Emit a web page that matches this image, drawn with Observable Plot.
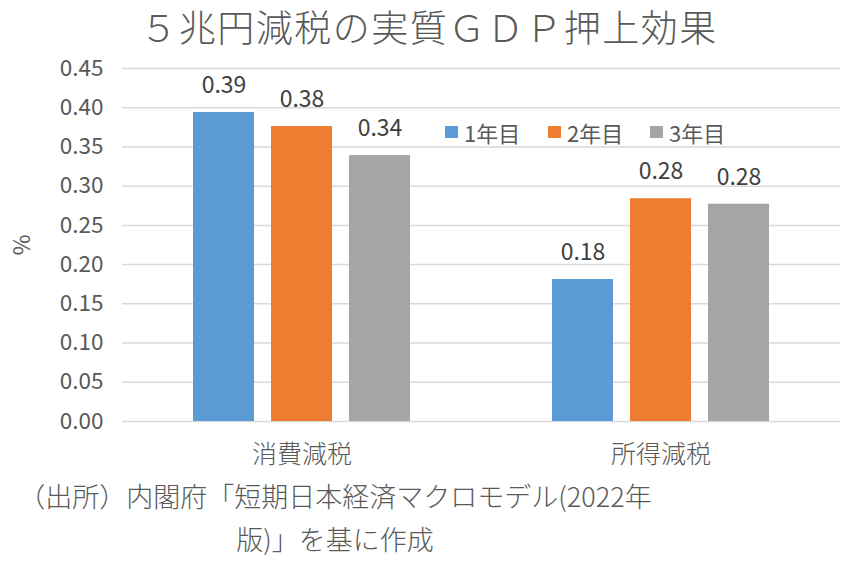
<!DOCTYPE html>
<html><head><meta charset="utf-8">
<script src="https://cdn.jsdelivr.net/npm/d3@7"></script>
<script src="https://cdn.jsdelivr.net/npm/@observablehq/plot@0.6"></script>
<style>
body{margin:0;background:#fff;font-family:"Noto Sans CJK JP","Noto Sans",sans-serif;color:#595959;}
#wrap{position:relative;width:858px;height:561px;overflow:hidden;}
#title{position:absolute;left:0;top:3px;width:858px;text-align:center;font-size:37px;font-weight:300;line-height:46px;color:#595959;letter-spacing:1.5px;}
#chart{position:absolute;left:0;top:50px;}
#legend{position:absolute;left:445px;top:117px;font-size:22px;line-height:30px;}
#legend span.item{position:absolute;top:0;display:flex;align-items:center;white-space:nowrap;}
#legend i{display:inline-block;width:13px;height:12px;margin-right:6px;}
#caption{position:absolute;left:2px;top:474px;width:666px;text-align:center;font-size:27px;line-height:43px;color:#595959;font-weight:300;white-space:nowrap;}
</style></head>
<body><div id="wrap">
<div id="title">５兆円減税の実質ＧＤＰ押上効果</div>
<div id="chart"></div>
<div id="legend"></div>
<div id="caption">（出所）内閣府「短期日本経済マクロモデル(2022年<br>版)」を基に作成</div>
</div>
<script>
const categories = ["消費減税", "所得減税"];
const years = ["1年目", "2年目", "3年目"];
const colors = ["#5b9bd5", "#ed7d31", "#a5a5a5"];
const consumptionValues = [0.394, 0.376, 0.339];
const incomeValues = [0.181, 0.284, 0.277];
const yTicks = [0, 0.05, 0.10, 0.15, 0.20, 0.25, 0.30, 0.35, 0.40, 0.45];

const data = [];
years.forEach((y, i) => data.push({cat: categories[0], year: y, value: consumptionValues[i]}));
years.forEach((y, i) => data.push({cat: categories[1], year: y, value: incomeValues[i]}));

const chart = Plot.plot({
  width: 858,
  height: 425,
  marginLeft: 122,
  marginRight: 18,
  marginTop: 18,
  marginBottom: 54,
  style: {fontFamily: '"Noto Sans CJK JP", sans-serif', color: "#595959", fontSize: "22.5px", background: "transparent"},
  fx: {domain: categories, padding: 0, label: null},
  x: {domain: years, paddingInner: 0.215, paddingOuter: 0.88, axis: null},
  y: {domain: [0, 0.45]},
  color: {domain: years, range: colors},
  marks: [
    Plot.ruleY(yTicks, {stroke: "#d9d9d9", strokeWidth: 1.5}),
    Plot.axisY(yTicks, {tickFormat: d3.format(".2f"), tickSize: 0, tickPadding: 19, label: "%", labelAnchor: "center", labelArrow: "none", labelOffset: 108}),
    Plot.axisFx({anchor: "bottom", tickSize: 0, tickPadding: 24, fontSize: 25, fontWeight: 300, label: null}),
    Plot.barY(data, {fx: "cat", x: "year", y: "value", fill: "year"}),
    Plot.text(data, {fx: "cat", x: "year", y: "value", text: d => d3.format(".2f")(d.value), dy: -27, fontSize: 23, fill: "#404040"})
  ]
});
document.getElementById("chart").appendChild(chart);

const lg = document.getElementById("legend");
const legendOffsets = [0, 103, 205];
years.forEach((y, i) => {
  const s = document.createElement("span");
  s.className = "item";
  s.style.left = legendOffsets[i] + "px";
  s.innerHTML = `<i style="background:${colors[i]}"></i>${y}`;
  lg.appendChild(s);
});
</script>
</body></html>
